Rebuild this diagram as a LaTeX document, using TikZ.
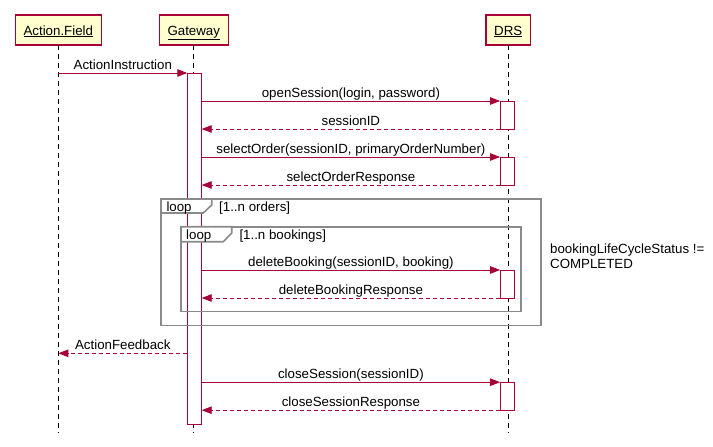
\documentclass[tikz,border=0pt]{standalone}
\usepackage{fontspec}
\setmainfont{Liberation Sans}
\usetikzlibrary{arrows.meta}
\definecolor{seqred}{HTML}{A80036}
\definecolor{partfill}{HTML}{FEFECE}
\definecolor{framegray}{HTML}{8A8A8A}
\begin{document}
\begin{tikzpicture}[x=1pt,y=-1pt,
  font=\fontsize{13.3}{15}\selectfont,
  participant/.style={draw=seqred,fill=partfill,line width=1.2pt,inner sep=0pt,outer sep=0pt},
  partlabel/.style={anchor=base,inner sep=0pt},
  lifeline/.style={draw=black,line width=0.9pt,dash pattern=on 5pt off 4pt},
  activation/.style={draw=seqred,fill=white,line width=1pt,inner sep=0pt,outer sep=0pt,minimum width=14.4pt},
  msg/.style={draw=seqred,line width=0.9pt,-{Triangle[length=10pt,width=7.5pt]}},
  reply/.style={msg,dash pattern=on 4pt off 3pt},
  msglabel/.style={anchor=base,inner sep=0pt,yshift=3.5pt},
  groupframe/.style={draw=framegray,line width=1.6pt},
  grouptab/.style={groupframe,fill=white},
  grouptext/.style={anchor=base west,inner sep=0pt},
]
\useasboundingbox (0,0) rectangle (713,447);

% participants
\node[participant,minimum width=86pt,minimum height=30pt] (AF)  at (58.3,30) {};
\node[participant,minimum width=69pt,minimum height=30pt] (GW)  at (193.8,30) {};
\node[participant,minimum width=44.3pt,minimum height=30pt] (DRS) at (508.2,30) {};
\node[partlabel] (AFt)  at (58.3,35)  {\underline{Action.Field}};
\node[partlabel] (GWt)  at (193.8,35) {\underline{Gateway}};
\node[partlabel] (DRSt) at (508.2,35) {\underline{DRS}};

% lifelines
\coordinate (AFend)  at (58.3,433);
\coordinate (GWend)  at (193.8,433);
\coordinate (DRSend) at (508.2,433);
\draw[lifeline] (AF.south)  -- (AFend);
\draw[lifeline] (GW.south)  -- (GWend);
\draw[lifeline] (DRS.south) -- (DRSend);

% activations
\node[activation,minimum height=351.3pt] (gwA)   at (194.5,248.65) {};
\node[activation,minimum height=28pt]    (drsA1) at (507.3,115) {};
\node[activation,minimum height=28pt]    (drsA2) at (507.3,171) {};
\node[activation,minimum height=28pt]    (drsA3) at (507.3,284) {};
\node[activation,minimum height=28pt]    (drsA4) at (507.3,396.2) {};

% combined fragments
\coordinate (outerNW) at (161,199);
\coordinate (outerSE) at (540.7,325.5);
\coordinate (innerNW) at (181,226.7);
\coordinate (innerSE) at (521,311.3);
\draw[groupframe] (outerNW) rectangle (outerSE);
\draw[grouptab] (outerNW) -- ++(50.7,0) -- ++(0,6) -- ++(-8.4,8) -- ++(-42.3,0) -- cycle;
\node[grouptext] (outerKw)   at (166.3,211) {loop};
\node[grouptext] (outerCond) at (219,211)   {[1..n orders]};
\draw[groupframe] (innerNW) rectangle (innerSE);
\draw[grouptab] (innerNW) -- ++(50.7,0) -- ++(0,6.3) -- ++(-8.4,8.7) -- ++(-42.3,0) -- cycle;
\node[grouptext] (innerKw)   at (186,239.3)   {loop};
\node[grouptext] (innerCond) at (239.3,239.3) {[1..n bookings]};

% messages
\draw[msg] (AF |- gwA.north) -- node[msglabel] {ActionInstruction} (gwA.north west);

\draw[msg]   (drsA1.north west -| gwA.east) -- node[msglabel] {openSession(login, password)} (drsA1.north west);
\draw[reply] (drsA1.south west) -- node[msglabel] {sessionID} (drsA1.south west -| gwA.east);

\draw[msg]   (drsA2.north west -| gwA.east) -- node[msglabel] {selectOrder(sessionID, primaryOrderNumber)} (drsA2.north west);
\draw[reply] (drsA2.south west) -- node[msglabel] {selectOrderResponse} (drsA2.south west -| gwA.east);

\draw[msg]   (drsA3.north west -| gwA.east) -- node[msglabel] {deleteBooking(sessionID, booking)} (drsA3.north west);
\draw[reply] (drsA3.south west) -- node[msglabel] {deleteBookingResponse} (drsA3.south west -| gwA.east);

\coordinate (fb) at (187.3,353.3);
\draw[reply] (fb) -- node[msglabel] {ActionFeedback} (fb -| AF);

\draw[msg]   (drsA4.north west -| gwA.east) -- node[msglabel] {closeSession(sessionID)} (drsA4.north west);
\draw[reply] (drsA4.south west) -- node[msglabel] {closeSessionResponse} (drsA4.south west -| gwA.east);

% condition note
\node[anchor=base west,inner sep=0pt,align=left] (cond) at (550,268) {bookingLifeCycleStatus !=\\COMPLETED};
\end{tikzpicture}
\end{document}
